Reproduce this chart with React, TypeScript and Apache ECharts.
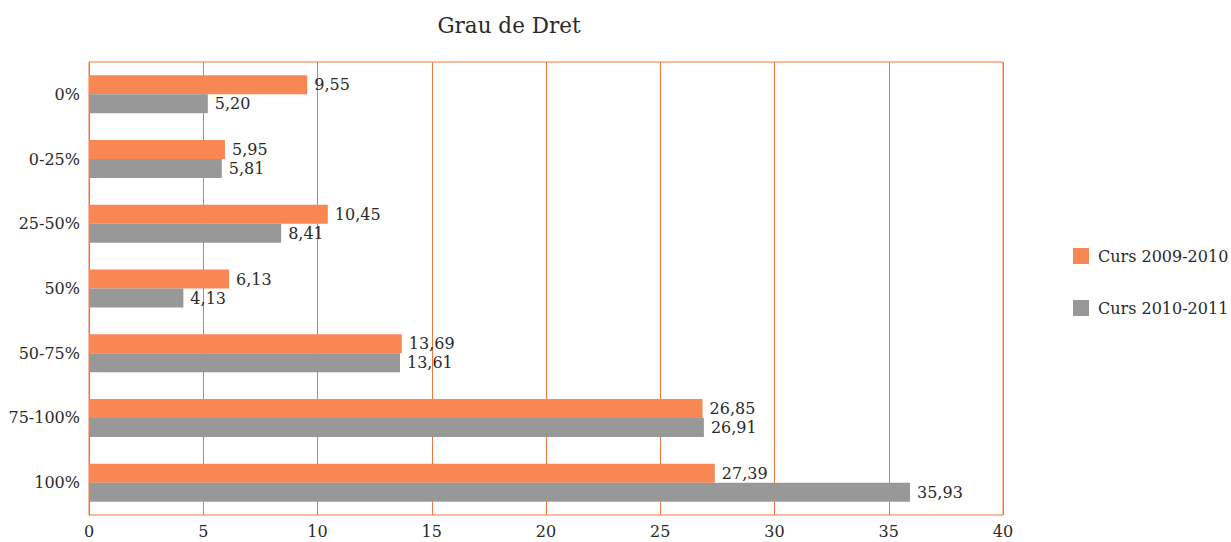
import React, { useEffect, useRef } from "react";
import * as echarts from "echarts";

const categories = ["0%", "0-25%", "25-50%", "50%", "50-75%", "75-100%", "100%"];
const seriesNames = ["Curs 2009-2010", "Curs 2010-2011"];
const curs0910 = [9.55, 5.95, 10.45, 6.13, 13.69, 26.85, 27.39];
const curs1011 = [5.2, 5.81, 8.41, 4.13, 13.61, 26.91, 35.93];
const xTicks = { min: 0, max: 40, interval: 5 };

const FONT = "DejaVu Serif";
const ORANGE = "#F98753";
const GREY = "#989898";
const LINE = "#F3743F";
const TEXT = "#2a2a2a";

export default function App() {
  const ref = useRef<HTMLDivElement>(null);
  useEffect(() => {
    if (!ref.current) return;
    const chart = echarts.init(ref.current, undefined, { renderer: "svg" });
    const fmt = (p: any) => Number(p.value).toFixed(2).replace(".", ",");
    const label = {
      show: true,
      position: "right",
      distance: 7,
      formatter: fmt,
      fontFamily: FONT,
      fontSize: 16,
      color: TEXT,
    };
    chart.setOption({
      animation: false,
      textStyle: { fontFamily: FONT },
      title: {
        text: "Grau de Dret",
        left: 504,
        textAlign: "center",
        top: 9,
        textStyle: { fontFamily: FONT, fontSize: 21.5, fontWeight: "normal", color: TEXT },
      },
      legend: {
        orient: "vertical",
        left: 1068,
        top: 243,
        itemWidth: 16,
        itemHeight: 16,
        itemGap: 36,
        icon: "rect",
        textStyle: { fontFamily: FONT, fontSize: 16, color: TEXT, padding: [0, 0, 0, 4] },
        data: seriesNames,
      },
      grid: {
        left: 89,
        right: 228,
        top: 62,
        bottom: 27,
        show: true,
        borderColor: LINE,
        borderWidth: 1,
        containLabel: false,
      },
      xAxis: {
        type: "value",
        min: xTicks.min,
        max: xTicks.max,
        interval: xTicks.interval,
        axisLine: { show: false },
        axisTick: { show: false },
        splitLine: { show: true, lineStyle: { color: LINE, width: 1 } },
        axisLabel: { fontFamily: FONT, fontSize: 16, color: TEXT, margin: 8 },
      },
      yAxis: {
        type: "category",
        data: categories,
        inverse: true,
        axisLine: { show: true, lineStyle: { color: LINE } },
        axisTick: { show: false },
        axisLabel: { fontFamily: FONT, fontSize: 16, color: TEXT, margin: 9 },
      },
      series: [
        {
          name: seriesNames[0],
          type: "bar",
          data: curs0910,
          barWidth: 19,
          barGap: "0%",
          itemStyle: { color: ORANGE },
          label,
        },
        {
          name: seriesNames[1],
          type: "bar",
          data: curs1011,
          barWidth: 19,
          barGap: "0%",
          itemStyle: { color: GREY },
          label,
        },
      ],
    });
    return () => chart.dispose();
  }, []);
  return (
    <div
      ref={ref}
      style={{ position: "fixed", left: 0, top: 0, width: 1231, height: 542, background: "#fff" }}
    />
  );
}
